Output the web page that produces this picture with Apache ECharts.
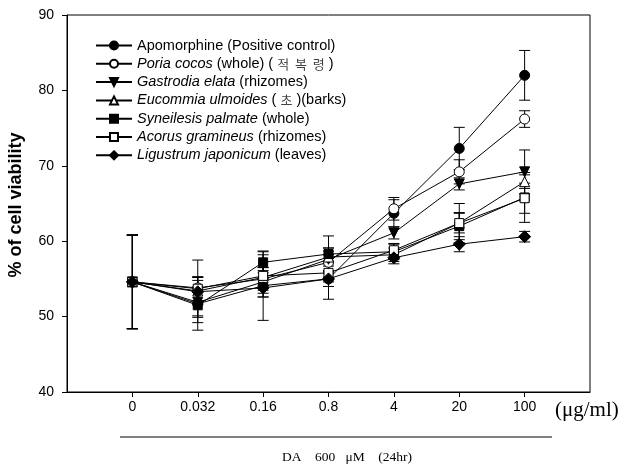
<!DOCTYPE html>
<html><head><meta charset="utf-8">
<script src="https://cdn.jsdelivr.net/npm/echarts@6/dist/echarts.min.js"></script>
<style>html,body{margin:0;padding:0;background:#fff}#c{width:625px;height:467px}</style>
</head><body><div id="c"></div>
<script>
const categories = ['0','0.032','0.16','0.8','4','20','100'];
const yTicks = [40,50,60,70,80,90];

const apoVals  = [54.6, 51.7, 54.1, 55.0, 63.7, 72.3, 82.0];
const apoErr   = [6.2, 3.5, 4.6, 2.7, 1.8, 2.8, 3.3];
const poriaVals= [54.6, 53.8, 55.0, 57.2, 64.3, 69.2, 76.2];
const poriaErr = [6.2, 3.7, 1.5, 1.5, 1.5, 1.6, 1.1];
const gastVals = [54.6, 51.9, 54.6, 57.6, 61.1, 67.6, 69.2];
const gastErr  = [6.2, 2.0, 1.5, 1.5, 0.8, 0.8, 2.9];
const eucoVals = [54.6, 53.4, 55.2, 57.9, 58.2, 62.4, 67.9];
const eucoErr  = [6.2, 1.8, 1.3, 1.2, 0.9, 1.3, 0.9];
const syneVals = [54.6, 51.5, 57.2, 58.3, 58.6, 62.0, 65.8];
const syneErr  = [6.2, 2.3, 1.4, 2.4, 1.0, 1.8, 3.3];
const acorVals = [54.6, 53.7, 55.4, 55.8, 58.8, 62.4, 65.7];
const acorErr  = [6.2, 1.6, 2.8, 1.2, 0.9, 2.6, 2.0];
const ligVals  = [54.6, 53.3, 53.8, 55.0, 57.8, 59.6, 60.6];
const ligErr   = [6.2, 1.5, 1.2, 1.0, 0.8, 1.0, 0.7];

const seriesDefs = [
  {name:'Apomorphine (Positive control)', label:'{n|Apomorphine (Positive control)}', vals:apoVals, err:apoErr, symbol:'circle', fill:'#000', size:10, rot:0},
  {name:'Poria cocos (whole) ( 적 복 령 )', label:'{i|Poria cocos}{n| (whole) ( }{k|적  복  령}{n| )}', vals:poriaVals, err:poriaErr, symbol:'circle', fill:'#fff', size:10, rot:0},
  {name:'Gastrodia elata (rhizomes)', label:'{i|Gastrodia elata}{n| (rhizomes)}', vals:gastVals, err:gastErr, symbol:'triangle', fill:'#000', size:10, rot:180},
  {name:'Eucommia ulmoides ( 초 )(barks)', label:'{i|Eucommia ulmoides}{n| ( }{k|초}{n| )(barks)}', vals:eucoVals, err:eucoErr, symbol:'triangle', fill:'#fff', size:10, rot:0},
  {name:'Syneilesis palmate (whole)', label:'{i|Syneilesis palmate}{n| (whole)}', vals:syneVals, err:syneErr, symbol:'rect', fill:'#000', size:9, rot:0},
  {name:'Acorus gramineus (rhizomes)', label:'{i|Acorus gramineus}{n| (rhizomes)}', vals:acorVals, err:acorErr, symbol:'rect', fill:'#fff', size:9, rot:0},
  {name:'Ligustrum japonicum (leaves)', label:'{i|Ligustrum japonicum}{n| (leaves)}', vals:ligVals, err:ligErr, symbol:'diamond', fill:'#000', size:12, rot:0}
];
const labelMap = {};
seriesDefs.forEach(d => labelMap[d.name] = d.label);

const series = [];
seriesDefs.forEach(d => {
  series.push({
    type:'custom', z:1, silent:true,
    data: d.vals.map((v,i)=>[i, v-d.err[i], v+d.err[i]]),
    renderItem:(params, api)=>{
      const x = api.value(0);
      const lo = api.coord([x, api.value(1)]);
      const hi = api.coord([x, api.value(2)]);
      const w = 5.5;
      const st = {stroke:'#000', lineWidth:1};
      return {type:'group', children:[
        {type:'line', shape:{x1:lo[0],y1:lo[1],x2:hi[0],y2:hi[1]}, style:st},
        {type:'line', shape:{x1:lo[0]-w,y1:lo[1],x2:lo[0]+w,y2:lo[1]}, style:st},
        {type:'line', shape:{x1:hi[0]-w,y1:hi[1],x2:hi[0]+w,y2:hi[1]}, style:st}
      ]};
    }
  });
});
seriesDefs.forEach(d => {
  series.push({
    type:'line', name:d.name, z:3,
    data: d.vals.map((v,i)=>[i,v]),
    symbol:d.symbol, symbolSize:d.size, symbolRotate:d.rot, showAllSymbol:true,
    lineStyle:{color:'#000', width:1},
    itemStyle:{color:d.fill, borderColor:'#000', borderWidth:1},
    emphasis:{disabled:true}
  });
});

const chart = echarts.init(document.getElementById('c'), null, {renderer:'canvas'});
chart.setOption({
  animation:false,
  backgroundColor:'#fff',
  grid:{left:67, right:35, top:15, bottom:75, show:true, borderColor:'#000', borderWidth:1},
  legend:{
    orient:'vertical', left:90, top:33, itemWidth:36, itemHeight:10, itemGap:3.3,
    data: seriesDefs.map(d=>d.name),
    formatter: n => labelMap[n],
    textStyle:{fontSize:14.5, color:'#000', fontFamily:'Liberation Sans', lineHeight:14,
      rich:{
        n:{fontSize:14.5, color:'#000', fontFamily:'Liberation Sans', lineHeight:14},
        i:{fontSize:14.5, color:'#000', fontFamily:'Liberation Sans', fontStyle:'italic', lineHeight:14},
        k:{fontSize:13, color:'#444', fontFamily:'Noto Sans CJK KR', lineHeight:14}
      }}
  },
  xAxis:{
    type:'value', min:-1, max:7, interval:1,
    axisLine:{onZero:false, lineStyle:{color:'#000', width:1}},
    axisTick:{show:true, inside:false, length:5, lineStyle:{color:'#000'}, customValues:categories.map((c,i)=>i)},
    axisLabel:{fontSize:14, color:'#000', fontFamily:'Liberation Sans', margin:8,
      customValues:categories.map((c,i)=>i), formatter: v => categories[v] !== undefined ? categories[v] : ''},
    splitLine:{show:false}
  },
  yAxis:{
    type:'value', min:yTicks[0], max:yTicks[yTicks.length-1], interval:10,
    axisLine:{show:true, onZero:false, lineStyle:{color:'#000', width:1}},
    axisTick:{show:true, inside:false, length:5, lineStyle:{color:'#000'}},
    axisLabel:{fontSize:14, color:'#000', fontFamily:'Liberation Sans', margin:13},
    splitLine:{show:false}
  },
  graphic:[
    {type:'text', x:16, y:205, rotation:Math.PI/2, style:{text:'% of cell viability', font:'bold 18px "Liberation Sans"', fill:'#000', align:'center', verticalAlign:'middle'}},
    {type:'text', x:555, y:410, style:{text:'(μg/ml)', font:'21px "Liberation Serif"', fill:'#000', align:'left', verticalAlign:'middle'}},
    {type:'line', shape:{x1:120, y1:437, x2:552, y2:437}, style:{stroke:'#000', lineWidth:1}},
    {type:'text', x:347, y:457, style:{text:'DA    600   μM    (24hr)', font:'13.5px "Liberation Serif"', fill:'#000', align:'center', verticalAlign:'middle'}}
  ],
  series: series
});
</script></body></html>
